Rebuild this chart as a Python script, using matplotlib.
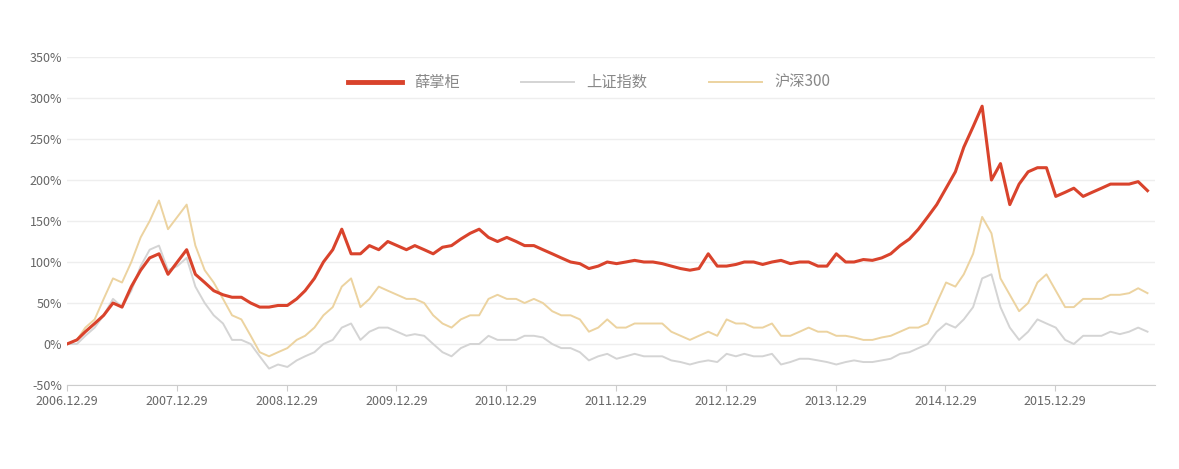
import matplotlib
matplotlib.use("Agg")
import matplotlib.pyplot as plt
import pandas as pd

plt.rcParams['font.family'] = ['Noto Sans CJK SC', 'DejaVu Sans']

dates = [pd.Timestamp("2006-12-29")] + list(pd.date_range("2007-01-31", periods=118, freq="ME"))

xue = [0,
 5,15,25,35,50,45,70,90,105,110,85,100,
 115,85,75,65,60,57,57,50,45,45,47,47,
 55,65,80,100,115,140,110,110,120,115,125,120,
 115,120,115,110,118,120,128,135,140,130,125,130,
 125,120,120,115,110,105,100,98,92,95,100,98,
 100,102,100,100,98,95,92,90,92,110,95,95,
 97,100,100,97,100,102,98,100,100,95,95,110,
 100,100,103,102,105,110,120,128,140,155,170,190,
 210,240,265,290,200,220,170,195,210,215,215,180,
 185,190,180,185,190,195,195,195,198,187]
sz = [0,
 0,10,20,35,55,45,65,95,115,120,90,95,
 105,70,50,35,25,5,5,0,-15,-30,-25,-28,
 -20,-15,-10,0,5,20,25,5,15,20,20,15,
 10,12,10,0,-10,-15,-5,0,0,10,5,5,
 5,10,10,8,0,-5,-5,-10,-20,-15,-12,-18,
 -15,-12,-15,-15,-15,-20,-22,-25,-22,-20,-22,-12,
 -15,-12,-15,-15,-12,-25,-22,-18,-18,-20,-22,-25,
 -22,-20,-22,-22,-20,-18,-12,-10,-5,0,15,25,
 20,30,45,80,85,45,20,5,15,30,25,20,
 5,0,10,10,10,15,12,15,20,15]
hs = [0,
 5,20,30,55,80,75,100,130,150,175,140,155,
 170,120,90,75,55,35,30,10,-10,-15,-10,-5,
 5,10,20,35,45,70,80,45,55,70,65,60,
 55,55,50,35,25,20,30,35,35,55,60,55,
 55,50,55,50,40,35,35,30,15,20,30,20,
 20,25,25,25,25,15,10,5,10,15,10,30,
 25,25,20,20,25,10,10,15,20,15,15,10,
 10,8,5,5,8,10,15,20,20,25,50,75,
 70,85,110,155,135,80,60,40,50,75,85,65,
 45,45,55,55,55,60,60,62,68,62]
n = min(len(dates), len(xue), len(sz), len(hs))
dates, xue, sz, hs = dates[:n], xue[:n], sz[:n], hs[:n]

fig = plt.figure(figsize=(11.79, 4.69), dpi=100)
ax = fig.add_axes([67/1179, 1-385/469, (1155-67)/1179, (385-57)/469])
ax.plot(dates, xue, color='#d9432c', lw=2.2, label='薛掌柜', zorder=3)
ax.plot(dates, sz, color='#d4d4d4', lw=1.4, label='上证指数', zorder=1)
ax.plot(dates, hs, color='#ecd3a0', lw=1.4, label='沪深300', zorder=2)

ax.set_ylim(-50, 350)
ax.set_yticks(range(-50, 351, 50))
ax.set_yticklabels([f"{v}%" for v in range(-50, 351, 50)])
ax.set_xlim(pd.Timestamp("2006-12-29"), pd.Timestamp("2016-11-25"))
ticks = [pd.Timestamp(f"{y}-12-29") for y in range(2006, 2016)]
ax.set_xticks(ticks)
ax.set_xticklabels([f"{y}.12.29" for y in range(2006, 2016)])
ax.grid(axis='y', color='#eeeeee', lw=1)
ax.set_axisbelow(True)
for s in ['top', 'right', 'left']:
    ax.spines[s].set_visible(False)
ax.spines['bottom'].set_color('#cccccc')
ax.tick_params(axis='both', colors='#666666', labelsize=9, length=0)
ax.tick_params(axis='x', length=4, color='#cccccc')
leg = ax.legend(loc='upper center', bbox_to_anchor=(0.48, 0.99), ncol=3, frameon=False,
                fontsize=11, handlelength=3.5, columnspacing=4)
leg.get_lines()[0].set_linewidth(3.5)
for t in leg.get_texts():
    t.set_color('#888888')
fig.savefig("out.png", dpi=100)
